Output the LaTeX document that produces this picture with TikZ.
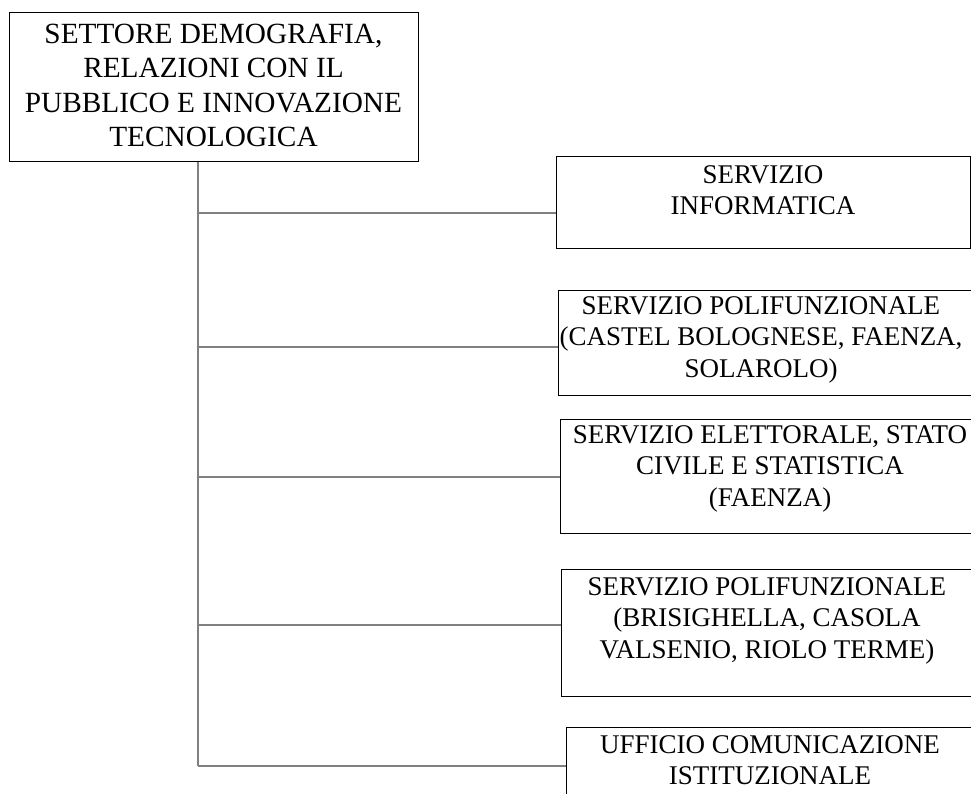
\documentclass[tikz,border=0pt]{standalone}
\usepackage{fontspec}
\setmainfont{Liberation Serif}
\begin{document}
\begin{tikzpicture}[x=1pt,y=-1pt,
  unitbox/.style={draw=black, line width=1.3pt, inner sep=0pt, anchor=north west},
  conn/.style={draw=black!50, line width=2pt},
  toptext/.style={anchor=base, inner sep=0pt, font=\fontsize{29.3}{34.5}\selectfont},
  subtext/.style={anchor=base, inner sep=0pt, font=\fontsize{27}{31.5}\selectfont}]
\path[use as bounding box, clip] (0,0) rectangle (971,793);
\fill[white] (0,0) rectangle (971,793);

% boxes
\node[unitbox, minimum width=409pt, minimum height=149pt] (top) at (9,12) {};
\node[unitbox, minimum width=414pt, minimum height=92pt]  (b1) at (556,156) {};
\node[unitbox, minimum width=440pt, minimum height=105pt] (b2) at (558,290) {};
\node[unitbox, minimum width=440pt, minimum height=114pt] (b3) at (560,419) {};
\node[unitbox, minimum width=440pt, minimum height=127pt] (b4) at (561,569) {};
\node[unitbox, minimum width=440pt, minimum height=100pt] (b5) at (566,727) {};

% texts
\node[toptext] (topt) at (213.5,43.3) {\parbox[t]{440pt}{\centering SETTORE DEMOGRAFIA,\\RELAZIONI CON IL\\PUBBLICO E INNOVAZIONE\\TECNOLOGICA}};
\node[subtext] (b1t) at (763,183) {\parbox[t]{440pt}{\centering SERVIZIO\\INFORMATICA}};
\node[subtext] (b2t) at (761,314) {\parbox[t]{440pt}{\centering SERVIZIO POLIFUNZIONALE\\(CASTEL BOLOGNESE, FAENZA,\\SOLAROLO)}};
\node[subtext] (b3t) at (770,443) {\parbox[t]{440pt}{\centering SERVIZIO ELETTORALE, STATO\\CIVILE E STATISTICA\\(FAENZA)}};
\node[subtext] (b4t) at (767,595) {\parbox[t]{440pt}{\centering SERVIZIO POLIFUNZIONALE\\(BRISIGHELLA, CASOLA\\VALSENIO, RIOLO TERME)}};
\node[subtext] (b5t) at (770,753) {\parbox[t]{440pt}{\centering UFFICIO COMUNICAZIONE\\ISTITUZIONALE}};

% junctions on the spine
\coordinate (j1) at (198,212.7);
\coordinate (j2) at (198,347);
\coordinate (j3) at (198,476.7);
\coordinate (j4) at (198,625);
\coordinate (j5) at (198,766);

% connectors
\draw[conn] (top.south -| j5) -- (j5);
\draw[conn] (j1) -- (j1 -| b1.west);
\draw[conn] (j2) -- (j2 -| b2.west);
\draw[conn] (j3) -- (j3 -| b3.west);
\draw[conn] (j4) -- (j4 -| b4.west);
\draw[conn] (j5) -- (j5 -| b5.west);
\end{tikzpicture}
\end{document}
